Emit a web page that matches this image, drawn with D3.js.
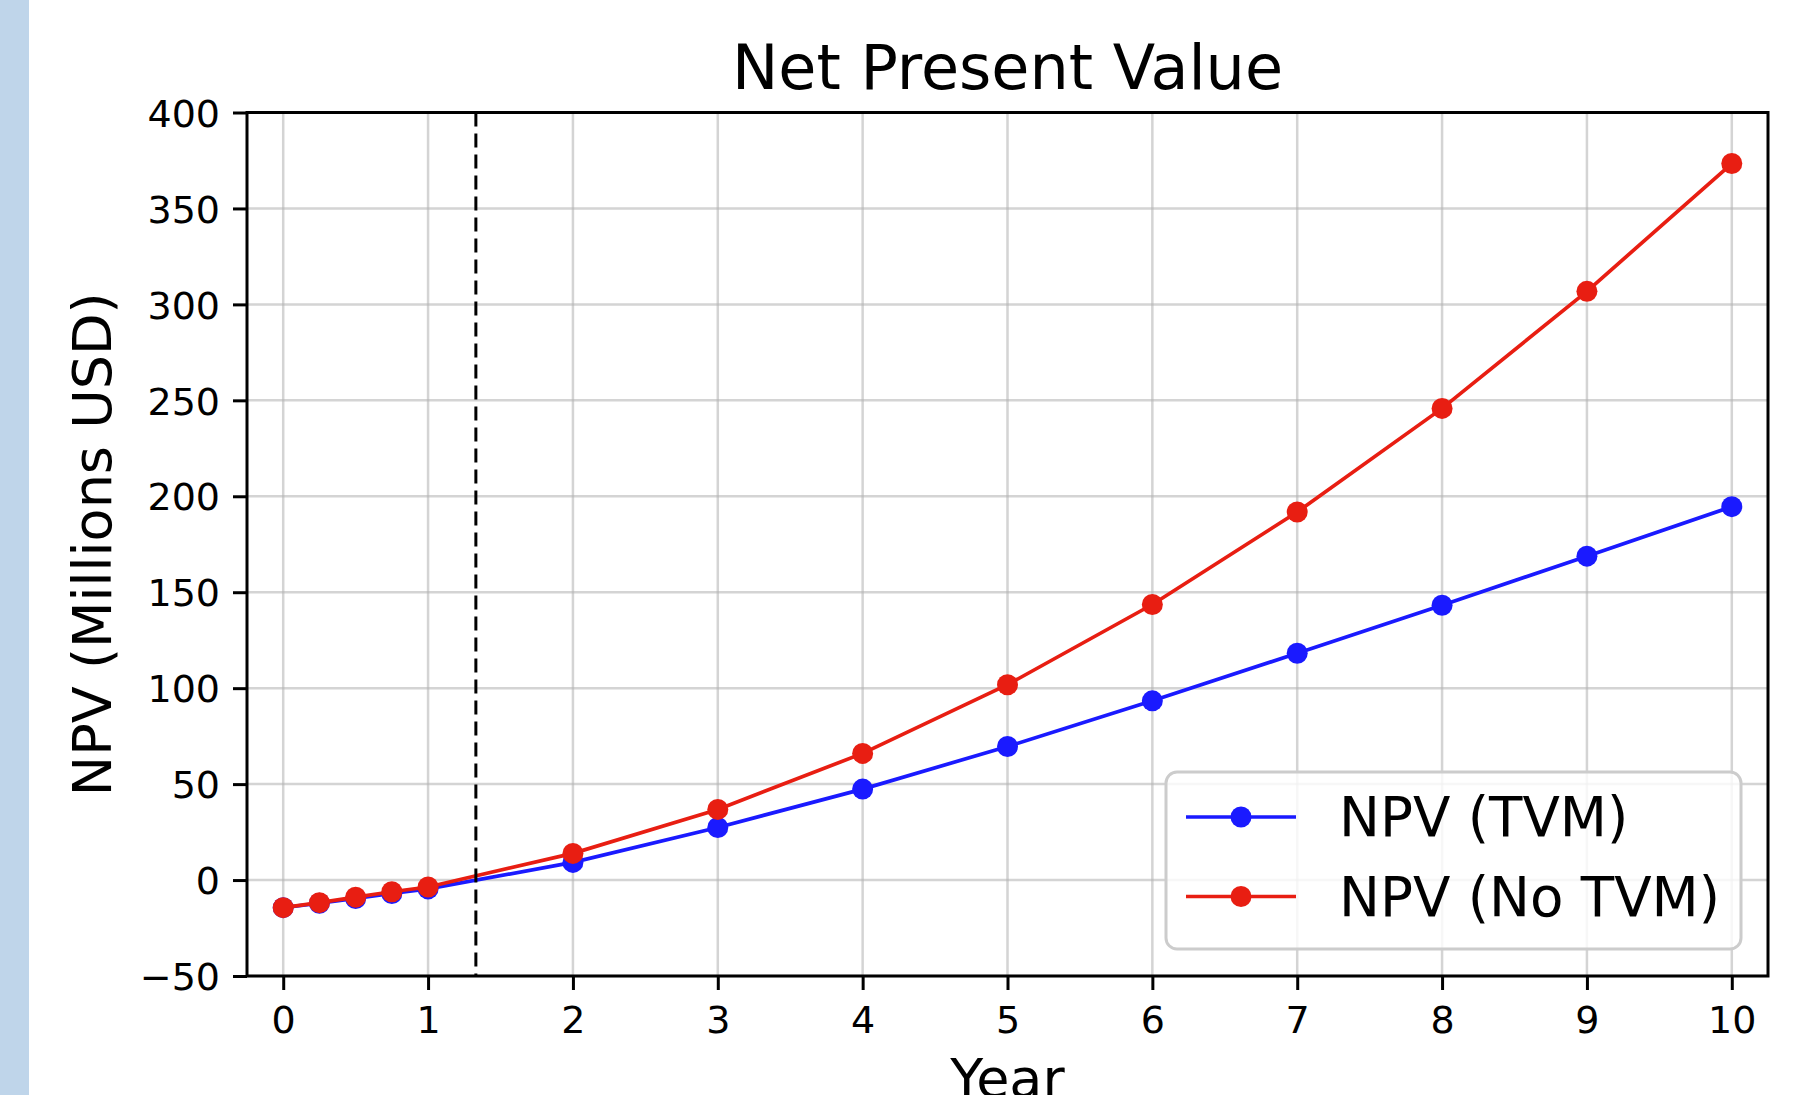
<!DOCTYPE html>
<html>
<head>
<meta charset="utf-8">
<script src="https://cdn.jsdelivr.net/npm/d3@7"></script>
<style>
  body { margin: 0; background: #fff; }
  svg { display: block; font-family: "DejaVu Sans", sans-serif; }
</style>
</head>
<body>
<div id="container"></div>
<script>
const years = [0, 0.25, 0.5, 0.75, 1, 2, 3, 4, 5, 6, 7, 8, 9, 10];
const npvTvm = [-14.4, -12.1, -9.6, -7.0, -4.6, 9.2, 27.4, 47.4, 69.6, 93.4, 118.2, 143.2, 168.8, 194.6];
const npvNoTvm = [-14.4, -11.8, -8.9, -6.1, -3.6, 13.9, 36.8, 66.0, 101.8, 143.6, 191.8, 245.8, 306.8, 373.4];
const seriesNames = ['NPV (TVM)', 'NPV (No TVM)'];
const seriesColors = ['#1a1aff', '#e81e12'];
const xTicks = [0, 1, 2, 3, 4, 5, 6, 7, 8, 9, 10];
const yTicks = [-50, 0, 50, 100, 150, 200, 250, 300, 350, 400];
const paybackYear = 1.33;

const width = 1799;
const height = 1095;
const margin = { left: 247, right: 1768, top: 112.5, bottom: 976 };

const svg = d3.select('#container').append('svg')
  .attr('width', width)
  .attr('height', height);

// page strip on the left
svg.append('rect')
  .attr('x', 0).attr('y', 0)
  .attr('width', 29).attr('height', height)
  .attr('fill', '#bfd5ea');

const xScale = d3.scaleLinear()
  .domain([-0.25, 10.25])
  .range([margin.left, margin.right]);

const yScale = d3.scaleLinear()
  .domain([-50, 400])
  .range([margin.bottom, margin.top]);

// grid
const grid = svg.append('g').attr('stroke', '#b0b0b0').attr('stroke-opacity', 0.55).attr('stroke-width', 2.5);
grid.selectAll('.gx')
  .data(xTicks)
  .enter()
  .append('line')
  .attr('x1', d => xScale(d)).attr('x2', d => xScale(d))
  .attr('y1', margin.top).attr('y2', margin.bottom);
grid.selectAll('.gy')
  .data(yTicks)
  .enter()
  .append('line')
  .attr('y1', d => yScale(d)).attr('y2', d => yScale(d))
  .attr('x1', margin.left).attr('x2', margin.right);

// series
const series = [npvTvm, npvNoTvm];
const line = d3.line()
  .x((d, i) => xScale(years[i]))
  .y(d => yScale(d));

series.forEach((values, s) => {
  const g = svg.append('g');
  g.append('path')
    .datum(values)
    .attr('d', line)
    .attr('fill', 'none')
    .attr('stroke', seriesColors[s])
    .attr('stroke-width', 3.7);
  g.selectAll('circle')
    .data(values)
    .enter()
    .append('circle')
    .attr('cx', (d, i) => xScale(years[i]))
    .attr('cy', d => yScale(d))
    .attr('r', 10.5)
    .attr('fill', seriesColors[s]);
});

// payback line
svg.append('line')
  .attr('x1', xScale(paybackYear)).attr('x2', xScale(paybackYear))
  .attr('y1', margin.top).attr('y2', margin.bottom)
  .attr('stroke', '#000')
  .attr('stroke-width', 3)
  .attr('stroke-dasharray', '14,7');

// axes
const xAxis = d3.axisBottom(xScale)
  .tickValues(xTicks)
  .tickFormat(d3.format('d'))
  .tickSize(14)
  .tickPadding(16);
const yAxis = d3.axisLeft(yScale)
  .tickValues(yTicks)
  .tickFormat(d3.format('d'))
  .tickSize(14)
  .tickPadding(13);

const gx = svg.append('g')
  .attr('transform', `translate(0, ${margin.bottom})`)
  .call(xAxis);
const gy = svg.append('g')
  .attr('transform', `translate(${margin.left}, 0)`)
  .call(yAxis);

[gx, gy].forEach(g => {
  g.select('.domain').remove();
  g.selectAll('line').attr('stroke', '#000').attr('stroke-width', 3);
  g.selectAll('text')
    .attr('fill', '#000')
    .style('font-family', '"DejaVu Sans", sans-serif')
    .style('font-size', '38px');
});
gy.selectAll('text').attr('dy', '0.36em');

// frame
svg.append('rect')
  .attr('x', margin.left).attr('y', margin.top)
  .attr('width', margin.right - margin.left)
  .attr('height', margin.bottom - margin.top)
  .attr('fill', 'none')
  .attr('stroke', '#000')
  .attr('stroke-width', 3);

// title + labels
svg.append('text')
  .attr('x', (margin.left + margin.right) / 2)
  .attr('y', 89)
  .attr('text-anchor', 'middle')
  .style('font-size', '62px')
  .text('Net Present Value');

svg.append('text')
  .attr('x', (margin.left + margin.right) / 2)
  .attr('y', 1097)
  .attr('text-anchor', 'middle')
  .style('font-size', '54px')
  .text('Year');

svg.append('text')
  .attr('transform', `translate(111, ${(margin.top + margin.bottom) / 2}) rotate(-90)`)
  .attr('text-anchor', 'middle')
  .style('font-size', '54px')
  .text('NPV (Millions USD)');

// legend
const legend = svg.append('g').attr('transform', 'translate(1166, 772)');
legend.append('rect')
  .attr('width', 575)
  .attr('height', 177)
  .attr('rx', 11)
  .attr('fill', '#fff')
  .attr('fill-opacity', 0.8)
  .attr('stroke', '#cccccc')
  .attr('stroke-width', 3);

const rows = legend.selectAll('.row')
  .data(seriesNames)
  .enter()
  .append('g')
  .attr('transform', (d, i) => `translate(0, ${45 + i * 79.5})`);
rows.append('line')
  .attr('x1', 20).attr('x2', 130)
  .attr('stroke', (d, i) => seriesColors[i])
  .attr('stroke-width', 3.7);
rows.append('circle')
  .attr('cx', 75)
  .attr('r', 10.5)
  .attr('fill', (d, i) => seriesColors[i]);
rows.append('text')
  .attr('x', 173)
  .attr('y', 19)
  .style('font-size', '54.7px')
  .text(d => d);
</script>
</body>
</html>
